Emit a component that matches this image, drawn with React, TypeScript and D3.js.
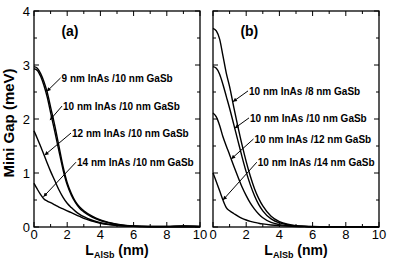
import React from 'react';
import * as d3 from 'd3';

const xGrid = [0, 0.2, 0.4, 0.6, 0.8, 1, 1.25, 1.5, 1.75, 2, 2.25, 2.5, 2.75, 3, 3.5, 4, 4.5, 5, 5.5, 6, 7, 8, 9, 10];

// panel (a): InAs thickness varies, GaSb = 10 nm
const gapA9 = [2.97, 2.94, 2.84, 2.69, 2.49, 2.22, 1.88, 1.5, 1.12, 0.82, 0.62, 0.47, 0.37, 0.3, 0.2, 0.13, 0.085, 0.05, 0.03, 0.018, 0.01, 0.012, 0.02, 0.012];
const gapA10 = [2.93, 2.9, 2.79, 2.62, 2.4, 2.12, 1.77, 1.41, 1.06, 0.78, 0.59, 0.45, 0.345, 0.28, 0.185, 0.12, 0.078, 0.046, 0.028, 0.017, 0.01, 0.011, 0.018, 0.011];
const gapA12 = [1.78, 1.64, 1.49, 1.34, 1.18, 1.03, 0.86, 0.69, 0.55, 0.44, 0.36, 0.29, 0.235, 0.19, 0.125, 0.08, 0.05, 0.03, 0.02, 0.013, 0.007, 0.005, 0.005, 0.004];
const gapA14 = [0.81, 0.7, 0.6, 0.52, 0.48, 0.45, 0.41, 0.37, 0.335, 0.3, 0.265, 0.23, 0.195, 0.16, 0.11, 0.07, 0.045, 0.028, 0.018, 0.011, 0.005, 0.003, 0.003, 0.003];

// panel (b): InAs = 10 nm, GaSb thickness varies
const gapB8 = [3.68, 3.63, 3.48, 3.17, 2.85, 2.6, 2.22, 1.86, 1.52, 1.21, 0.94, 0.71, 0.53, 0.39, 0.2, 0.1, 0.05, 0.025, 0.014, 0.008, 0.004, 0.003, 0.003, 0.003];
const gapB10 = [2.97, 2.94, 2.83, 2.64, 2.42, 2.2, 1.9, 1.6, 1.3, 1.02, 0.78, 0.58, 0.42, 0.3, 0.15, 0.075, 0.04, 0.02, 0.012, 0.007, 0.004, 0.003, 0.003, 0.003];
const gapB12 = [2.11, 2.04, 1.88, 1.67, 1.5, 1.34, 1.13, 0.93, 0.74, 0.58, 0.44, 0.33, 0.24, 0.17, 0.085, 0.045, 0.025, 0.014, 0.008, 0.005, 0.003, 0.003, 0.003, 0.003];
const gapB14 = [1.0, 0.84, 0.67, 0.5, 0.36, 0.3, 0.25, 0.2, 0.16, 0.13, 0.105, 0.085, 0.07, 0.057, 0.038, 0.025, 0.016, 0.01, 0.007, 0.005, 0.003, 0.003, 0.003, 0.003];

const labelsA = ['9 nm InAs /10 nm GaSb', '10 nm InAs /10 nm GaSb', '12 nm InAs /10 nm GaSb', '14 nm InAs /10 nm GaSb'];
const labelsB = ['10 nm InAs /8 nm GaSb', '10 nm InAs /10 nm GaSb', '10 nm InAs /12 nm GaSb', '10 nm InAs /14 nm GaSb'];

const xTicks = [0, 2, 4, 6, 8, 10];
const yTicks = [0, 1, 2, 3, 4];

// annotation placement in data units: [labelX, labelY, tipX, tipY]
const notesA: [number, number, number, number][] = [
  [1.66, 2.76, 0.77, 2.51],
  [1.75, 2.24, 0.96, 1.98],
  [2.29, 1.74, 0.64, 1.33],
  [2.59, 1.2, 0.57, 0.56],
];
const notesB: [number, number, number, number][] = [
  [2.17, 2.52, 1.2, 2.32],
  [2.23, 2.02, 1.31, 1.83],
  [2.5, 1.63, 1.1, 1.26],
  [2.7, 1.2, 0.6, 0.5],
];

const W = 415;
const H = 260;
const top = 11;
const bottom = 227;
const font = 'Liberation Sans, Arial, Helvetica, sans-serif';

type PanelProps = {
  left: number;
  right: number;
  series: number[][];
  labels: string[];
  notes: [number, number, number, number][];
  tag: string;
  showY: boolean;
};

const Panel = ({ left, right, series, labels, notes, tag, showY }: PanelProps) => {
  const x = d3.scaleLinear().domain([0, 10]).range([left, right]);
  const y = d3.scaleLinear().domain([0, 4]).range([bottom, top]);
  const line = d3
    .line<number>()
    .x((_, i) => x(xGrid[i]))
    .y((d) => y(d))
    .curve(d3.curveMonotoneX);

  const xMinor = d3.range(0, 11, 1);
  const yMinor = d3.range(0, 4.01, 0.5);

  return (
    <g>
      {/* ticks, pointing inward on all four sides */}
      {xMinor.map((t) => {
        const len = t % 2 === 0 ? 5 : 3;
        return (
          <g key={'xt' + t}>
            <line x1={x(t)} x2={x(t)} y1={bottom} y2={bottom - len} stroke="#000" strokeWidth={1} />
            <line x1={x(t)} x2={x(t)} y1={top} y2={top + len} stroke="#000" strokeWidth={1} />
          </g>
        );
      })}
      {yMinor.map((t) => {
        const len = Number.isInteger(t) ? 5 : 3;
        return (
          <g key={'yt' + t}>
            <line x1={left} x2={left + len} y1={y(t)} y2={y(t)} stroke="#000" strokeWidth={1} />
            <line x1={right} x2={right - len} y1={y(t)} y2={y(t)} stroke="#000" strokeWidth={1} />
          </g>
        );
      })}
      <rect x={left} y={top} width={right - left} height={bottom - top} fill="none" stroke="#000" strokeWidth={1.3} />

      {xTicks.map((t) => (
        <text key={'xl' + t} x={x(t)} y={bottom + 12} textAnchor="middle" fontSize={13} fontFamily={font}>
          {t}
        </text>
      ))}
      {showY &&
        yTicks.map((t) => (
          <text key={'yl' + t} x={left - 4} y={y(t) + 4.5} textAnchor="end" fontSize={13} fontFamily={font}>
            {t}
          </text>
        ))}

      <text x={(left + right) / 2} y={255} textAnchor="middle" fontSize={14} fontWeight="bold" fontFamily={font}>
        <tspan>L</tspan>
        <tspan dy={3} fontSize={9}>AlSb</tspan>
        <tspan dy={-3}> (nm)</tspan>
      </text>

      {/* curves */}
      {series.map((s, i) => (
        <path key={'c' + i} d={line(s) ?? ''} fill="none" stroke="#000" strokeWidth={1.4} />
      ))}

      <text x={x(1.65)} y={36} fontSize={14} fontWeight="bold" fontFamily={font}>
        {tag}
      </text>

      {notes.map(([lx, ly, tx, ty], i) => (
        <g key={'n' + i}>
          <line
            x1={x(lx) - 1}
            y1={y(ly)}
            x2={x(tx)}
            y2={y(ty)}
            stroke="#000"
            strokeWidth={1}
            markerEnd="url(#arrowHead)"
          />
          <text x={x(lx)} y={y(ly) + 3.6} fontSize={10} fontWeight="bold" fontFamily={font}>
            {labels[i]}
          </text>
        </g>
      ))}
    </g>
  );
};

const App = () => {
  return (
    <svg width={W} height={H} style={{ position: 'absolute', left: 0, top: 0, background: '#fff' }}>
      <defs>
        <marker
          id="arrowHead"
          viewBox="0 0 6 6"
          refX={6}
          refY={3}
          markerWidth={5}
          markerHeight={4}
          markerUnits="userSpaceOnUse"
          orient="auto"
        >
          <path d="M0,0 L6,3 L0,6 z" fill="#000" />
        </marker>
      </defs>
      <rect width={W} height={H} fill="#fff" />
      <text
        transform={`translate(14, ${(top + bottom) / 2 + 4}) rotate(-90)`}
        textAnchor="middle"
        fontSize={15}
        fontWeight="bold"
        fontFamily={font}
      >
        Mini Gap (meV)
      </text>
      <Panel
        left={34}
        right={200}
        series={[gapA9, gapA10, gapA12, gapA14]}
        labels={labelsA}
        notes={notesA}
        tag="(a)"
        showY
      />
      <Panel
        left={213}
        right={379}
        series={[gapB8, gapB10, gapB12, gapB14]}
        labels={labelsB}
        notes={notesB}
        tag="(b)"
        showY={false}
      />
    </svg>
  );
};

export default App;
